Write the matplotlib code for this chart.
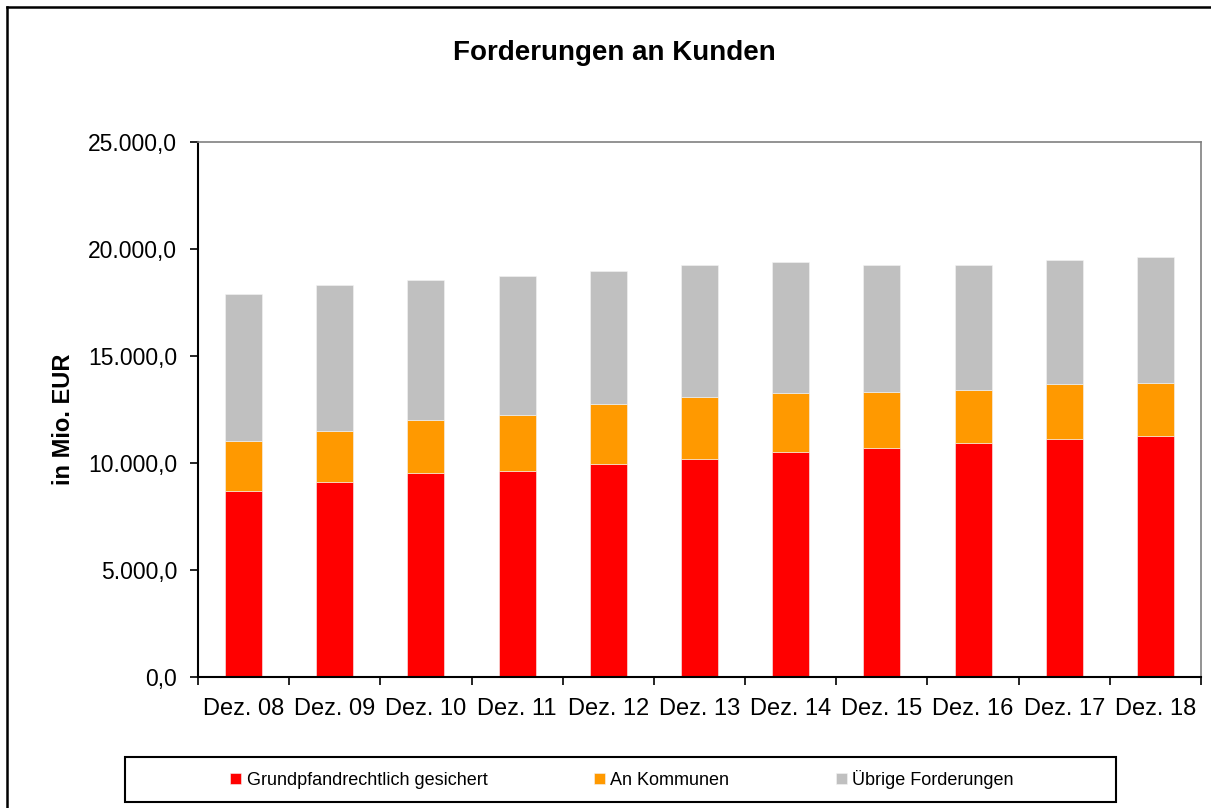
import matplotlib
matplotlib.use("Agg")
import matplotlib.pyplot as plt
import numpy as np
from matplotlib.patches import Rectangle
from matplotlib.lines import Line2D
from matplotlib.ticker import FuncFormatter, FixedLocator

categories = ["Dez. 08", "Dez. 09", "Dez. 10", "Dez. 11", "Dez. 12", "Dez. 13",
              "Dez. 14", "Dez. 15", "Dez. 16", "Dez. 17", "Dez. 18"]
grundpfand = [8706, 9127, 9547, 9612, 9953, 10201, 10528, 10701, 10949, 11108, 11276]
kommunen = [2308, 2383, 2477, 2645, 2818, 2897, 2729, 2631, 2477, 2584, 2477]
uebrige = [6883, 6808, 6528, 6482, 6215, 6141, 6136, 5907, 5813, 5780, 5888]
series_names = ["Grundpfandrechtlich gesichert", "An Kommunen", "Übrige Forderungen"]
colors = ["#FF0000", "#FF9900", "#C0C0C0"]

plt.rcParams['font.family'] = ['Liberation Sans', 'DejaVu Sans']

W, H = 1211, 808
fig = plt.figure(figsize=(W / 100, H / 100), dpi=100)

# plot area in pixels
l, r, t, b = 198, 1201, 142, 677
ax = fig.add_axes([l / W, 1 - b / H, (r - l) / W, (b - t) / H])

x = np.arange(len(categories))
bottoms = np.zeros(len(categories))
handles = []
for vals, name, c in zip([grundpfand, kommunen, uebrige], series_names, colors):
    bars = ax.bar(x, vals, width=0.405, bottom=bottoms, color=c, label=name,
                  edgecolor="#f4f4f4", linewidth=0.4)
    bottoms = bottoms + np.array(vals)
    handles.append(bars)

ax.set_xlim(-0.5, len(categories) - 0.5)
ax.set_ylim(0, 25000)
ax.yaxis.set_major_locator(FixedLocator([0, 5000, 10000, 15000, 20000, 25000]))

def de_fmt(v, pos):
    s = f"{v:,.1f}"
    return s.replace(",", "X").replace(".", ",").replace("X", ".")

ax.yaxis.set_major_formatter(FuncFormatter(de_fmt))
ax.set_xticks(x)
ax.set_xticklabels(categories, fontsize=17)
ax.tick_params(axis='x', length=0, pad=15)
ax.set_xticks(np.arange(len(categories) + 1) - 0.5, minor=True)
ax.tick_params(axis='x', which='minor', length=6, width=1.2, color='black', direction='out')
ax.tick_params(axis='y', labelsize=16.5, length=6, width=1.2, direction='out', pad=9)

for side in ['top', 'right']:
    ax.spines[side].set_color('#808080')
    ax.spines[side].set_linewidth(1.2)
for side in ['left', 'bottom']:
    ax.spines[side].set_color('black')
    ax.spines[side].set_linewidth(1.5)

ax.set_ylabel("in Mio. EUR", fontsize=17, fontweight='bold')
ax.yaxis.set_label_coords((75 - l) / (r - l), 0.5 - (419 - (t + b) / 2) / (b - t))

fig.text(614 / W, 1 - 53 / H, "Forderungen an Kunden", ha='center', va='center',
         fontsize=20, fontweight='bold')

# outer chart border (top and left lines)
fig.add_artist(Line2D([7 / W, 1], [1 - 7 / H, 1 - 7 / H], color='black', lw=1.8,
                      transform=fig.transFigure))
fig.add_artist(Line2D([7 / W, 7 / W], [0, 1 - 7 / H], color='black', lw=1.8,
                      transform=fig.transFigure))

# legend frame
lx0, lx1, ly0, ly1 = 125, 1116, 757, 802
fig.add_artist(Rectangle((lx0 / W, 1 - ly1 / H), (lx1 - lx0) / W, (ly1 - ly0) / H,
                         transform=fig.transFigure, fill=False, edgecolor='black', lw=1.5))
leg = fig.legend(handles=handles, labels=series_names, loc='center',
                 bbox_to_anchor=(622 / W, 1 - (ly0 + ly1) / 2 / H),
                 ncol=3, frameon=False, fontsize=13, handlelength=0.6,
                 handleheight=0.6, handletextpad=0.3, columnspacing=5.9)

fig.savefig("out.png", dpi=100)
